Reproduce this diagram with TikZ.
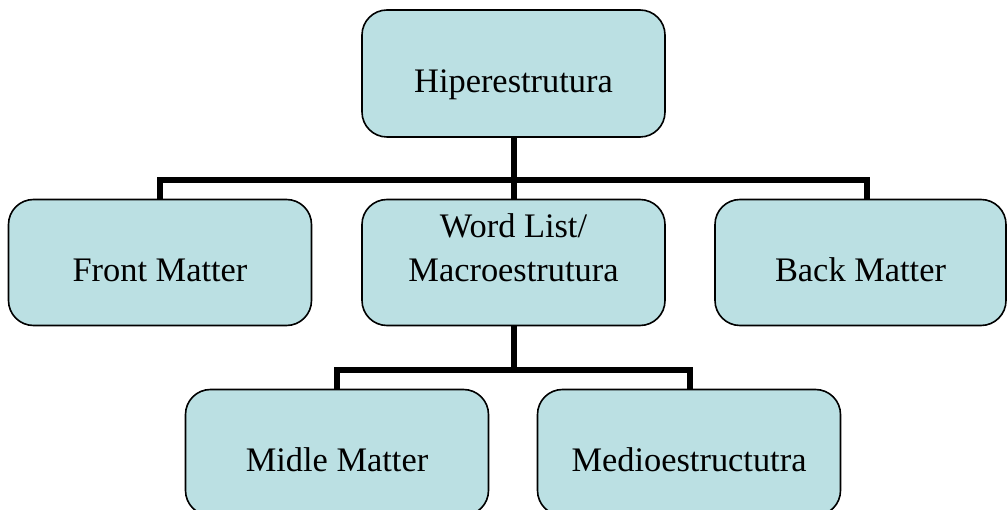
\documentclass[tikz,border=0pt]{standalone}
\usepackage{fontspec}
\setmainfont{Liberation Serif}
\begin{document}
\begin{tikzpicture}[x=1pt,y=-1pt,
  box/.style={draw=black, line width=1.6pt, fill=boxfill, rounded corners=25pt,
    minimum width=303pt, minimum height=126pt, inner sep=0pt,
    font=\fontsize{34.4}{44}\selectfont, text height=38pt, text depth=0pt},
  twoline/.style={text height=0pt, text depth=49pt},
  link/.style={draw=black, line width=6pt}]
\definecolor{boxfill}{RGB}{187,224,227}
\useasboundingbox[fill=white] (0,0) rectangle (1007,510);

% top level
\node[box, minimum height=127pt] (hyper) at (513.5,73.5) {Hiperestrutura};

% second level
\node[box] (front) at (160,262.5) {Front Matter};
\node[box, twoline] (word) at (513.5,262.5)
  {\begin{tabular}[t]{@{}c@{}}Word List/\\Macroestrutura\end{tabular}};
\node[box, minimum width=291pt] (back) at (860.5,262.5) {Back Matter};

% third level
\node[box] (midle) at (337,452.5) {Midle Matter};
\node[box] (medio) at (689,452.5) {Medioestructutra};

% junctions of the tree connectors
\coordinate (j1) at (513.5,180);
\coordinate (j2) at (513.5,370);

\draw[link] (hyper.south) -- (j1) -- (word.north);
\draw[link] (front.north) |- (j1) -| ([xshift=6.5pt]back.north);
\draw[link] (word.south) -- (j2);
\draw[link] (midle.north) |- (j2) -| ([xshift=1pt]medio.north);
\end{tikzpicture}
\end{document}
